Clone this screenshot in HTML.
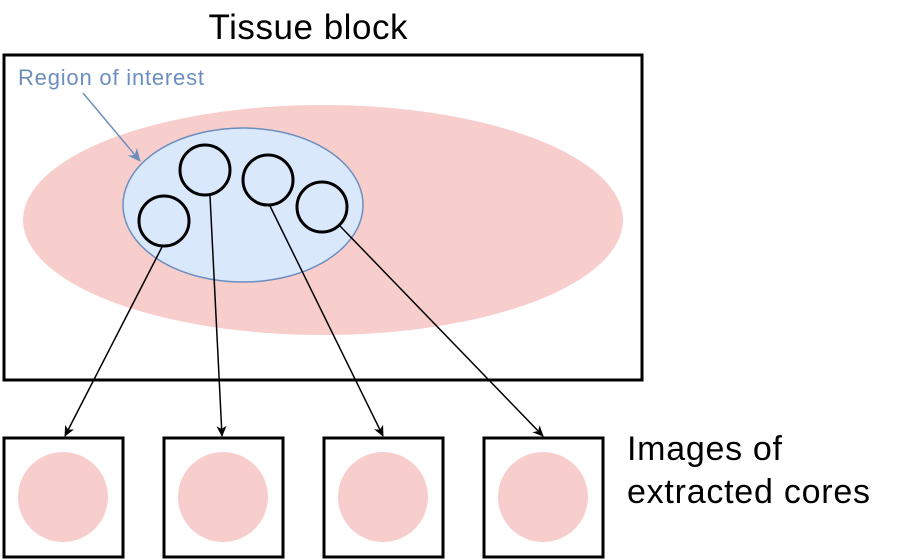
<!DOCTYPE html>
<html><head><style>body{margin:0;background:#fff}svg{display:block}</style></head><body>
<svg width="904" height="560" viewBox="0 0 904 560" xmlns="http://www.w3.org/2000/svg">
<defs>
<marker id="a" markerWidth="12" markerHeight="12" refX="10" refY="5" orient="auto" markerUnits="userSpaceOnUse"><path d="M0,0 L11,5 L0,10 L3,5 Z" fill="#000"/></marker>
<marker id="b" markerWidth="14" markerHeight="14" refX="12" refY="6" orient="auto" markerUnits="userSpaceOnUse"><path d="M0,0 L13,6 L0,12 L4,6 Z" fill="#6c8ebf"/></marker>
</defs>
<text x="308" y="39" font-family="Liberation Sans, sans-serif" font-size="35" text-anchor="middle" textLength="199">Tissue block</text>
<rect x="4" y="55" width="638" height="325" fill="#fff" stroke="#000" stroke-width="3"/>
<ellipse cx="323" cy="220" rx="300" ry="115" fill="#f8cecc"/>
<ellipse cx="243" cy="205" rx="120" ry="77" fill="#dae8fc" stroke="#6c8ebf" stroke-width="1.5"/>
<text x="18" y="85" font-family="Liberation Sans, sans-serif" font-size="22" fill="#6c8ebf" textLength="186">Region of interest</text>
<line x1="83" y1="93" x2="140" y2="161" stroke="#6c8ebf" stroke-width="1.5" marker-end="url(#b)"/>
<g fill="none" stroke="#000" stroke-width="3">
<circle cx="164" cy="221" r="25"/><circle cx="205" cy="170" r="25"/><circle cx="268" cy="180" r="25"/><circle cx="322" cy="207" r="25"/>
</g>
<g stroke="#000" stroke-width="1.5">
<line x1="162" y1="247" x2="65" y2="436" marker-end="url(#a)"/>
<line x1="210" y1="196" x2="222" y2="436" marker-end="url(#a)"/>
<line x1="270" y1="206" x2="383" y2="436" marker-end="url(#a)"/>
<line x1="340" y1="226" x2="543" y2="436" marker-end="url(#a)"/>
</g>
<g fill="#fff" stroke="#000" stroke-width="3">
<rect x="4" y="438" width="119" height="119"/><rect x="164" y="438" width="119" height="119"/><rect x="324" y="438" width="119" height="119"/><rect x="484" y="438" width="119" height="119"/>
</g>
<g fill="#f8cecc">
<circle cx="63" cy="497" r="45"/><circle cx="223" cy="497" r="45"/><circle cx="383" cy="497" r="45"/><circle cx="543" cy="497" r="45"/>
</g>
<text x="627" y="460" font-family="Liberation Sans, sans-serif" font-size="34" textLength="155">Images of</text>
<text x="627" y="503" font-family="Liberation Sans, sans-serif" font-size="34" textLength="243">extracted cores</text>
</svg>
</body></html>
